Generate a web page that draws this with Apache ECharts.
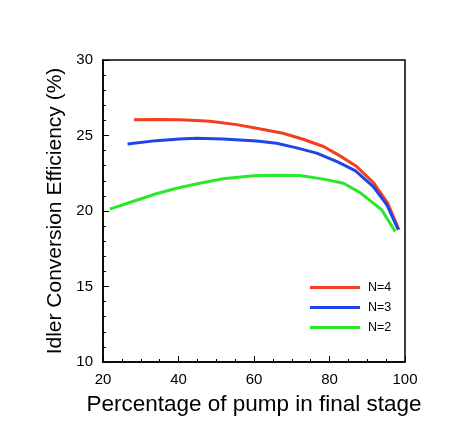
<!DOCTYPE html>
<html><head><meta charset="utf-8">
<script src="https://cdn.jsdelivr.net/npm/echarts@6/dist/echarts.min.js"></script>
<style>html,body{margin:0;padding:0;background:#fff}#c{width:449px;height:448px}</style>
</head><body><div id="c"></div>
<script>
const seriesNames = ['N=4', 'N=3', 'N=2'];
const n4x = [28.2, 34.1, 40.3, 44.8, 48.3, 55.4, 60.7, 67.7, 73.0, 78.4, 82.8, 87.2, 91.6, 95.4, 98.4];
const n4y = [26.05, 26.06, 26.04, 26.0, 25.94, 25.72, 25.48, 25.15, 24.75, 24.27, 23.65, 22.94, 21.89, 20.52, 18.76];
const n3x = [26.5, 34.1, 40.3, 44.8, 51.8, 60.7, 66.0, 71.3, 76.6, 82.0, 86.8, 91.6, 95.2, 98.2];
const n3y = [24.44, 24.66, 24.77, 24.82, 24.77, 24.64, 24.49, 24.18, 23.83, 23.27, 22.68, 21.62, 20.41, 18.76];
const n2x = [21.8, 27.1, 34.1, 39.5, 45.6, 51.8, 59.8, 65.1, 72.2, 78.4, 83.7, 88.1, 93.8, 97.4];
const n2y = [20.12, 20.56, 21.14, 21.51, 21.84, 22.13, 22.33, 22.37, 22.35, 22.11, 21.84, 21.22, 20.08, 18.64];
const xTicks = [20, 40, 60, 80, 100];
const yTicks = [10, 15, 20, 25, 30];

const colors = ['#f2401e', '#1f45e6', '#2be82b'];
const zip = (a, b) => a.map((v, i) => [v, b[i]]);
const xs = [n4x, n3x, n2x], ys = [n4y, n3y, n2y];
const font = 'Liberation Sans, Arial, Helvetica, sans-serif';

const chart = echarts.init(document.getElementById('c'));
chart.setOption({
  animation: false,
  backgroundColor: '#fff',
  grid: { left: 103, right: 44, top: 60, bottom: 86, show: true, borderColor: '#000', borderWidth: 1.5, backgroundColor: 'transparent' },
  legend: {
    data: seriesNames, orient: 'vertical', left: 305, top: 276, itemWidth: 50, itemHeight: 3, itemGap: 7,
    icon: 'rect', textStyle: { fontFamily: font, fontSize: 12.5, color: '#000', padding: [0, 0, 0, 3] }
  },
  xAxis: {
    type: 'value', min: xTicks[0], max: xTicks[xTicks.length - 1], interval: 20,
    name: 'Percentage of pump in final stage', nameLocation: 'middle', nameGap: 31,
    nameTextStyle: { fontFamily: font, fontSize: 22.5, color: '#000' },
    axisLine: { show: true, lineStyle: { color: '#000', width: 1.5 } },
    axisTick: { show: true, inside: true, length: 6, lineStyle: { color: '#000', width: 1 } },
    minorTick: { show: true, splitNumber: 4, length: 3, lineStyle: { color: '#000', width: 1 } },
    axisLabel: { fontFamily: font, fontSize: 15, color: '#000', margin: 10 },
    splitLine: { show: false }
  },
  yAxis: {
    type: 'value', min: yTicks[0], max: yTicks[yTicks.length - 1], interval: 5,
    name: 'Idler Conversion Efficiency (%)', nameLocation: 'middle', nameGap: 25,
    nameTextStyle: { fontFamily: font, fontSize: 21, color: '#000' },
    axisLine: { show: true, lineStyle: { color: '#000', width: 1.5 } },
    axisTick: { show: true, inside: true, length: 6, lineStyle: { color: '#000', width: 1 } },
    minorTick: { show: true, splitNumber: 5, length: 3, lineStyle: { color: '#000', width: 1 } },
    axisLabel: { fontFamily: font, fontSize: 15, color: '#000', margin: 10 },
    splitLine: { show: false }
  },
  series: seriesNames.map((n, i) => ({
    name: n, type: 'line', data: zip(xs[i], ys[i]), showSymbol: false, symbol: 'none',
    lineStyle: { color: colors[i], width: 3 }, itemStyle: { color: colors[i] }
  }))
});
</script></body></html>
